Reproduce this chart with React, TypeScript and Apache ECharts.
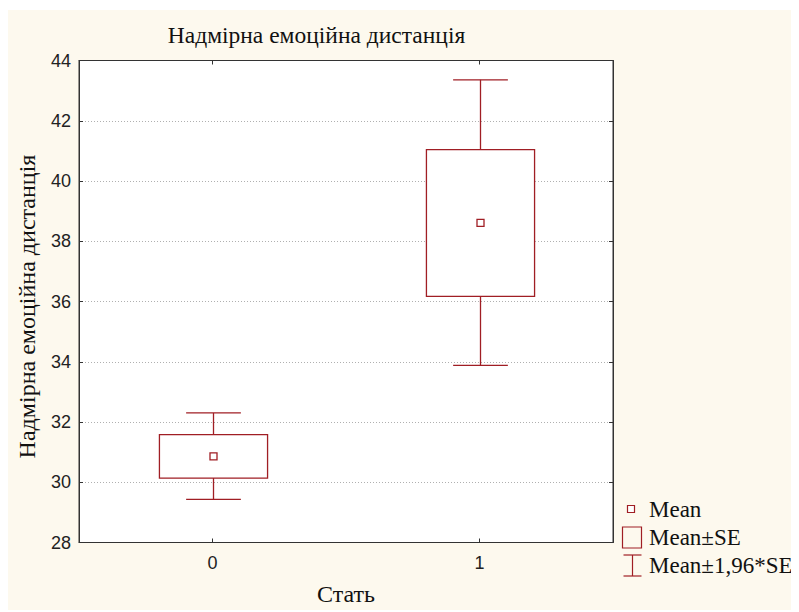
import React, { useEffect, useRef } from "react";
import * as echarts from "echarts";

const categories = ["0", "1"];
const means = [30.86, 38.61];
const seLow = [30.14, 36.17];
const seHigh = [31.58, 41.04];
const ciLow = [29.43, 33.88];
const ciHigh = [32.3, 43.36];
const yMin = 28;
const yMax = 44;
const yStep = 2;

const titleText = "Надмірна емоційна дистанція";
const xTitle = "Стать";
const yTitle = "Надмірна емоційна дистанція";
const legendLabels = ["Mean", "Mean±SE", "Mean±1,96*SE"];

const RED = "#a01e24";
const BG = "#fdf9ee";
const SERIF = "'Liberation Serif', 'DejaVu Serif', serif";
const SANS = "'Liberation Sans', Arial, sans-serif";

export default function App() {
  const ref = useRef<HTMLDivElement>(null);
  useEffect(() => {
    if (!ref.current) return;
    const chart = echarts.init(ref.current, undefined, { renderer: "svg" });
    const data = categories.map((_, i) => [i, ciLow[i], seLow[i], means[i], seHigh[i], ciHigh[i]]);
    const lineStyle = { stroke: RED, lineWidth: 1.3 };
    const option: any = {
      animation: false,
      backgroundColor: BG,
      grid: {
        left: 71,
        top: 50.5,
        width: 534,
        height: 482,
        show: true,
        backgroundColor: "#ffffff",
        borderColor: "#333",
        borderWidth: 1,
      },
      xAxis: [
        {
          type: "category",
          data: categories,
          position: "bottom",
          axisLine: { show: true, lineStyle: { color: "#333", width: 1 } },
          axisTick: { show: true, inside: true, length: 4, alignWithLabel: true, lineStyle: { color: "#333" } },
          axisLabel: { fontFamily: SANS, fontSize: 18, color: "#222", margin: 11 },
          splitLine: { show: false },
        },
        {
          type: "category",
          data: categories,
          position: "top",
          axisLine: { show: true, lineStyle: { color: "#333", width: 1 } },
          axisTick: { show: true, inside: true, length: 4, alignWithLabel: true, lineStyle: { color: "#333" } },
          axisLabel: { show: false },
          splitLine: { show: false },
        },
      ],
      yAxis: [
        {
          type: "value",
          min: yMin,
          max: yMax,
          interval: yStep,
          position: "left",
          axisLine: { show: true, lineStyle: { color: "#333", width: 1 } },
          axisTick: { show: true, inside: true, length: 4, lineStyle: { color: "#333" } },
          axisLabel: { fontFamily: SANS, fontSize: 18, color: "#222", margin: 8 },
          splitLine: { show: true, lineStyle: { color: "#b0b0b0", type: [1, 2], width: 1 } },
        },
        {
          type: "value",
          min: yMin,
          max: yMax,
          interval: yStep,
          position: "right",
          axisLine: { show: true, lineStyle: { color: "#333", width: 1 } },
          axisTick: { show: true, inside: true, length: 4, lineStyle: { color: "#333" } },
          axisLabel: { show: false },
          splitLine: { show: false },
        },
      ],
      series: [
        {
          type: "custom",
          xAxisIndex: 0,
          yAxisIndex: 0,
          data,
          renderItem: (params: any, api: any) => {
            const idx = api.value(0);
            const band = api.size([1, 0])[0];
            const boxW = band * 0.405;
            const capW = band * 0.205;
            const pLo = api.coord([idx, api.value(1)]);
            const pSeLo = api.coord([idx, api.value(2)]);
            const pMean = api.coord([idx, api.value(3)]);
            const pSeHi = api.coord([idx, api.value(4)]);
            const pHi = api.coord([idx, api.value(5)]);
            const cx = Math.round(pMean[0]) + 0.5;
            return {
              type: "group",
              children: [
                { type: "line", shape: { x1: cx, y1: pHi[1], x2: cx, y2: pSeHi[1] }, style: lineStyle },
                { type: "line", shape: { x1: cx, y1: pSeLo[1], x2: cx, y2: pLo[1] }, style: lineStyle },
                { type: "line", shape: { x1: cx - capW / 2, y1: pHi[1], x2: cx + capW / 2, y2: pHi[1] }, style: lineStyle },
                { type: "line", shape: { x1: cx - capW / 2, y1: pLo[1], x2: cx + capW / 2, y2: pLo[1] }, style: lineStyle },
                {
                  type: "rect",
                  shape: { x: cx - boxW / 2, y: pSeHi[1], width: boxW, height: pSeLo[1] - pSeHi[1] },
                  style: { fill: "#ffffff", stroke: RED, lineWidth: 1.3 },
                },
                {
                  type: "rect",
                  shape: { x: cx - 3.5, y: pMean[1] - 3.5, width: 7, height: 7 },
                  style: { fill: "#ffffff", stroke: RED, lineWidth: 1.3 },
                },
              ],
            };
          },
        },
      ],
      graphic: [
        {
          type: "text",
          x: 308.5,
          y: 25,
          style: { text: titleText, font: `23.5px ${SERIF}`, fill: "#111", align: "center", verticalAlign: "middle" },
        },
        {
          type: "text",
          x: 19,
          y: 296.5,
          rotation: Math.PI / 2,
          style: { text: yTitle, font: `24px ${SERIF}`, fill: "#111", align: "center", verticalAlign: "middle" },
        },
        {
          type: "text",
          x: 338,
          y: 584,
          style: { text: xTitle, font: `24px ${SERIF}`, fill: "#111", align: "center", verticalAlign: "middle" },
        },
        // legend
        {
          type: "rect",
          shape: { x: 619.5, y: 495.5, width: 7, height: 7 },
          style: { fill: "#ffffff", stroke: RED, lineWidth: 1.2 },
        },
        {
          type: "rect",
          shape: { x: 614.5, y: 517, width: 19, height: 21 },
          style: { fill: "none", stroke: RED, lineWidth: 1.2 },
        },
        { type: "line", shape: { x1: 615.5, y1: 545, x2: 633.5, y2: 545 }, style: { stroke: RED, lineWidth: 1.2 } },
        { type: "line", shape: { x1: 615.5, y1: 566, x2: 633.5, y2: 566 }, style: { stroke: RED, lineWidth: 1.2 } },
        { type: "line", shape: { x1: 624.5, y1: 545, x2: 624.5, y2: 566 }, style: { stroke: RED, lineWidth: 1.2 } },
        ...legendLabels.map((t, i) => ({
          type: "text",
          x: 641,
          y: [499, 527.7, 555.7][i],
          style: { text: t, font: `23px ${SERIF}`, fill: "#111", align: "left", verticalAlign: "middle" },
        })),
      ],
    };
    chart.setOption(option);
    return () => chart.dispose();
  }, []);
  return (
    <div
      ref={ref}
      style={{ width: 791, height: 602, position: "relative", top: 2 }}
    />
  );
}
